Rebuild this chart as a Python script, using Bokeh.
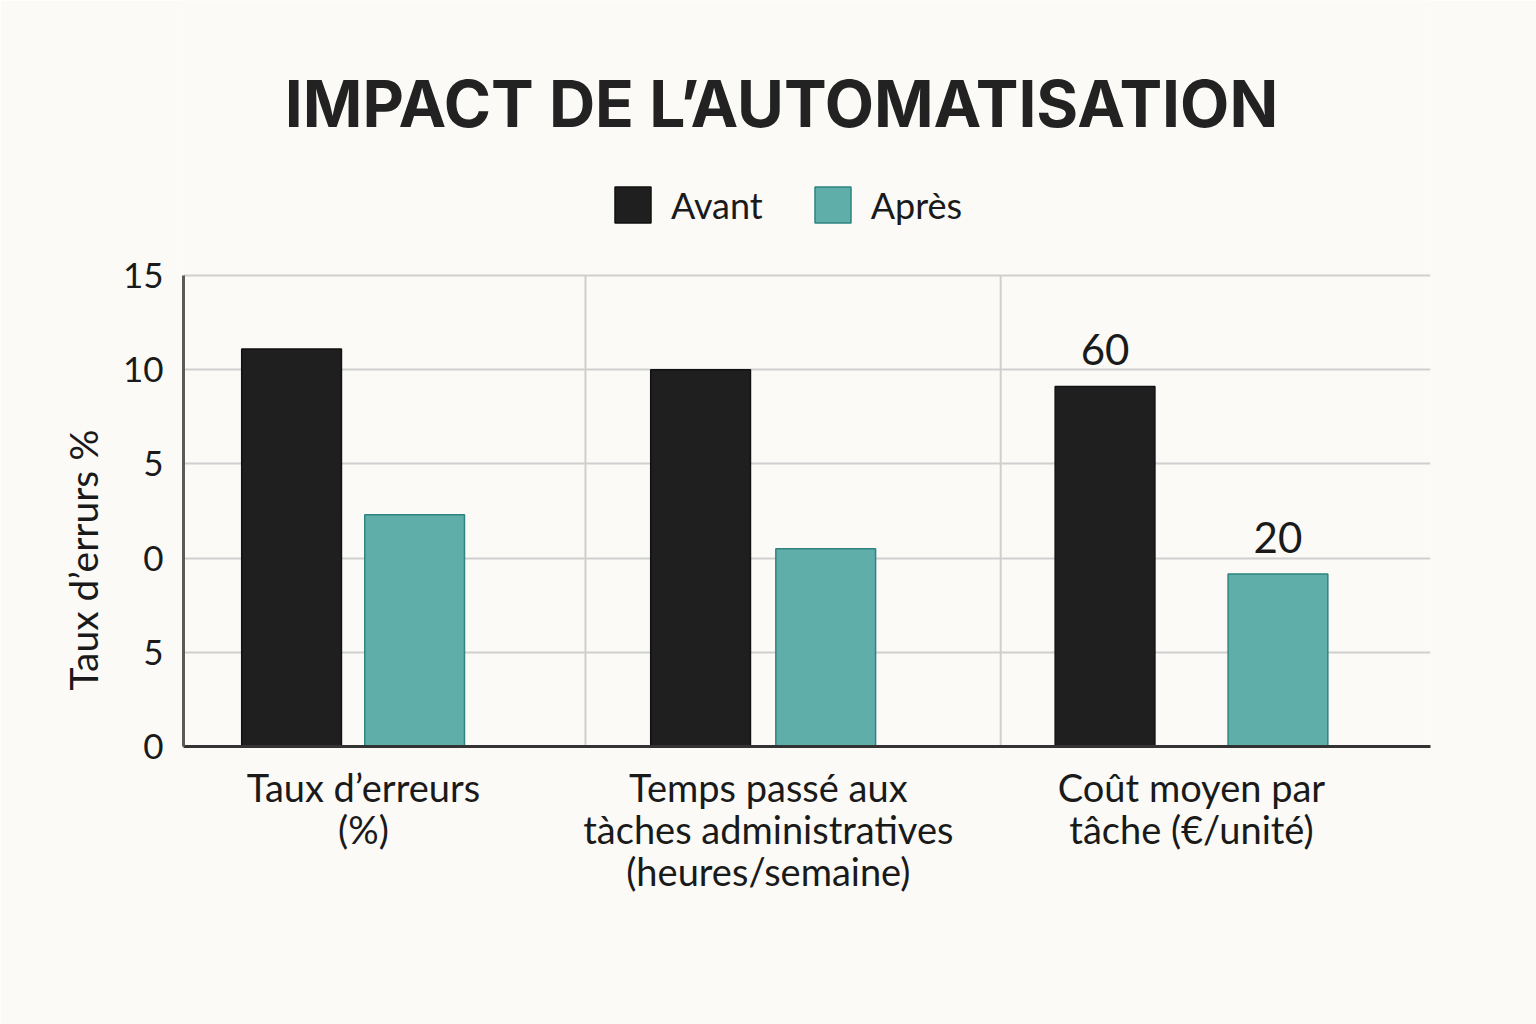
from bokeh.core.properties import value
from bokeh.embed import file_html
from bokeh.models import (ColumnDataSource, FixedTicker, Label, Legend,
                          LegendItem, Range1d, Title)
from bokeh.plotting import figure
from bokeh.resources import INLINE

# ---- data -------------------------------------------------------------
categories = [
    "Taux d’erreurs\n(%)",
    "Temps passé aux\ntàches administratives\n(heures/semaine)",
    "Coût moyen par\ntâche (€/unité)",
]
series = ["Avant", "Après"]

# first two groups are read on the left axis scale
avant_main = [21.1, 20.0]
apres_main = [12.3, 10.5]

# cost per task (€/unit), shown with its own value labels
cout_avant = 60
cout_apres = 20

y_ticks = [0, 5, 10, 15, 20, 25]
y_tick_labels = ["0", "5", "0", "5", "10", "15"]

# ---- layout constants ---------------------------------------------------
W, H = 1536, 1024
BG = "#fbfaf7"
DARK = "#1f1f1f"
TEAL = "#5faeaa"
TEAL_EDGE = "#2f8480"
GRID = "#cfcfcf"
INK = "#1a1a1a"
FONT = "Lato"

AVANT_X = [0.26, 1.244, 2.217]
APRES_X = [0.556, 1.545, 2.633]
LABEL_X = [0.433, 1.407, 2.425]
SEPARATORS = [0.967, 1.966]
BAR_W = 0.24

# the frame reaches the top of the page so the heading sits inside it;
# the gridded chart area occupies the lower PLOT_H pixels of FRAME_H
FRAME_H, PLOT_H = 746, 471
Y_TOP = y_ticks[-1]
Y_END = Y_TOP * FRAME_H / PLOT_H
COST_START, COST_SPAN = -16.76, 100.42
COST_END = COST_START + COST_SPAN * FRAME_H / PLOT_H

p = figure(
    width=W, height=H,
    output_backend="svg", toolbar_location=None, title_location=None,
    x_range=Range1d(0, 3), y_range=Range1d(0, Y_END),
    min_border_left=183, min_border_right=106,
    min_border_top=0, min_border_bottom=H - FRAME_H,
    background_fill_color=BG, border_fill_color=BG,
    outline_line_color=None,
)
p.extra_y_ranges = {"cost": Range1d(COST_START, COST_END)}

# ---- grid ---------------------------------------------------------------
p.ygrid.ticker = FixedTicker(ticks=y_ticks)
p.ygrid.grid_line_color = GRID
p.ygrid.grid_line_width = 2
p.xgrid.visible = False
# vertical separators between the three groups
p.segment(x0=SEPARATORS, x1=SEPARATORS, y0=0, y1=Y_TOP,
          line_color=GRID, line_width=2)

# ---- axes ---------------------------------------------------------------
p.yaxis.ticker = FixedTicker(ticks=y_ticks)
p.yaxis.bounds = (0, Y_TOP)
p.yaxis.major_label_overrides = dict(zip(y_ticks, y_tick_labels))
p.yaxis.axis_line_color = "#5a5a5a"
p.yaxis.axis_line_width = 3
p.yaxis.major_tick_line_color = None
p.yaxis.minor_tick_line_color = None
p.yaxis.major_label_standoff = 14
p.yaxis.major_label_text_font = FONT
p.yaxis.major_label_text_font_size = "35px"
p.yaxis.major_label_text_color = INK

p.xaxis.ticker = FixedTicker(ticks=LABEL_X)
p.xaxis.major_label_overrides = dict(zip(LABEL_X, categories))
p.xaxis.axis_line_color = "#333333"
p.xaxis.axis_line_width = 3
p.xaxis.major_tick_line_color = None
p.xaxis.minor_tick_line_color = None
p.xaxis.major_label_standoff = 11
p.xaxis.major_label_text_font = FONT
p.xaxis.major_label_text_font_size = "38px"
p.xaxis.major_label_text_line_height = 0.92
p.xaxis.major_label_text_color = INK

# ---- bars ---------------------------------------------------------------
src_av = ColumnDataSource(dict(x=AVANT_X[:2], top=avant_main))
src_ap = ColumnDataSource(dict(x=APRES_X[:2], top=apres_main))
r_av = p.vbar(x="x", top="top", bottom=0, width=BAR_W, source=src_av,
              fill_color=DARK, line_color="#111111", line_width=1.5)
r_ap = p.vbar(x="x", top="top", bottom=0, width=BAR_W, source=src_ap,
              fill_color=TEAL, line_color=TEAL_EDGE, line_width=1.5)

src_cost = ColumnDataSource(dict(
    x=[AVANT_X[2], APRES_X[2]],
    top=[cout_avant, cout_apres],
    fill=[DARK, TEAL],
    edge=["#111111", TEAL_EDGE],
    label=[str(cout_avant), str(cout_apres)],
))
p.vbar(x="x", top="top", bottom=COST_START, width=BAR_W, source=src_cost,
       y_range_name="cost", fill_color="fill", line_color="edge",
       line_width=1.5)
p.text(x="x", y="top", text="label", source=src_cost, y_range_name="cost",
       text_align="center", text_baseline="bottom", y_offset=-21,
       text_font=value(FONT), text_font_size="42px", text_color=INK)

# ---- legend (position in pixels from the frame's lower-left corner) -----
legend = Legend(
    items=[LegendItem(label=series[0], renderers=[r_av]),
           LegendItem(label=series[1], renderers=[r_ap])],
    orientation="horizontal", location=(427, 519),
    padding=0, margin=0, spacing=47,
    glyph_width=45, glyph_height=45, label_standoff=16,
    label_text_font=FONT, label_text_font_size="36px",
    label_text_color=INK,
    border_line_color=None, background_fill_alpha=0,
)
p.add_layout(legend, "center")

# ---- heading and vertical axis caption -----------------------------------
p.add_layout(Label(
    x=598, y=643, x_units="screen", y_units="screen",
    text="IMPACT DE L’AUTOMATISATION",
    text_align="center", text_baseline="middle",
    text_font="Inter", text_font_style="bold", text_font_size="64px",
    text_color="#222222",
))
p.add_layout(Title(
    text="Taux d’errurs %", align="left", offset=56, standoff=27,
    text_font=FONT, text_font_style="normal", text_font_size="39px",
    text_color=INK,
), "left")

open("out.html", "w").write(file_html(p, INLINE))
